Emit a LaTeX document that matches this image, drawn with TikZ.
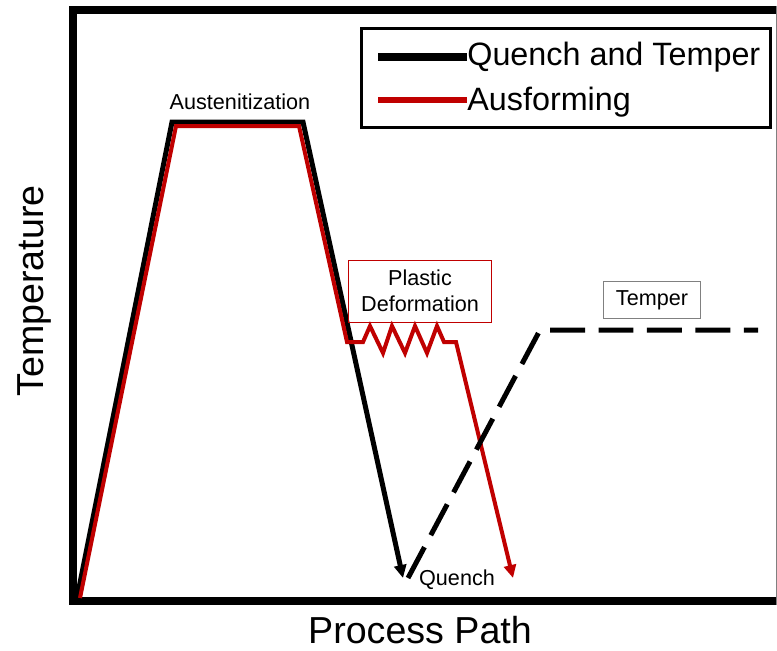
\documentclass[tikz,border=0pt]{standalone}
\usepackage{fontspec}
\setmainfont{Liberation Sans}
\usetikzlibrary{positioning,arrows.meta}
\definecolor{ausred}{RGB}{192,0,0}
\tikzset{
	qt/.style={line width=0.1cm, black, line join=miter},
	af/.style={line width=0.08cm, ausred, line join=miter},
	tip/.style={-{Triangle[length=0.26cm,width=0.24cm]}},
	lbl/.style={font=\fontsize{12.3}{14.5}\selectfont, inner sep=2pt},
	big/.style={font=\fontsize{21.4}{24}\selectfont, inner sep=0pt},
	leg/.style={font=\fontsize{18.4}{21}\selectfont, inner sep=0pt},
}
\begin{document}
\begin{tikzpicture}[x=0.02cm,y=-0.02cm]
	\useasboundingbox (0,0) rectangle (777,650);
	\draw[line width=0.16cm,line join=miter] (777,10) -- (73,10) -- (73,601) -- (777,601);%Rahmen
	\draw[gray,line width=0.02cm] (776.5,6) -- (776.5,605);%Rahmen rechts
	% Quench and Temper
	\coordinate (q0) at (77,598);
	\coordinate (q1) at (172,122);
	\coordinate (q2) at (303,122);
	\coordinate (q3) at (403,578);
	\draw[qt,tip] (q0) -- (q1) -- (q2) -- (q3);
	% Ausforming
	\coordinate (a0) at (80,598);
	\coordinate (a1) at (176,126);
	\coordinate (a2) at (299,126);
	\coordinate (a3) at (347,342);
	\coordinate (a4) at (456,342);
	\coordinate (a5) at (513,578);
	\draw[af,tip] (a0) -- (a1) -- (a2) -- (a3) -- (363,342) -- (370,326) -- (383,353) -- (392,326)
		-- (405,353) -- (415,326) -- (427,353) -- (437,326) -- (444,342) -- (a4) -- (a5);%Zickzack
	% Anlassen
	\coordinate (t0) at (408,578);
	\coordinate (t1) at (540,330);
	\coordinate (t2) at (758,330);
	\draw[line width=0.1cm,dash pattern=on 0.7cm off 0.27cm] (t0) -- (t1) -- (t2);
	% Beschriftung
	\node[lbl] (aust) at (240,102) {Austenitization};
	\node[lbl,draw=ausred,line width=0.02cm,align=center,minimum width=2.88cm,minimum height=1.24cm] (plastic) at (420,291) {Plastic\\Deformation};
	\node[lbl,draw=gray,line width=0.02cm,minimum width=1.94cm,minimum height=0.74cm] (temper) at (652,300) {Temper};
	\node[lbl] (quench) at (457,580) {Quench};
	\node[big,anchor=base] (xlab) at (420,643) {Process Path};
	\node[big,anchor=base,rotate=90] (ylab) at (43,291) {Temperature};
	% Legende
	\node[draw,line width=0.06cm,minimum width=8.2cm,minimum height=2cm] (legend) at (566,78) {};
	\node[leg,anchor=base west] (lqt) at (467,65) {Quench and Temper};
	\node[leg,anchor=base west] (laf) at (467,110) {Ausforming};
	\coordinate (lq) at (378,57);
	\coordinate (la) at (378,100);
	\draw[line width=0.15cm] (lq) -- (lq -| lqt.west);
	\draw[ausred,line width=0.13cm] (la) -- (la -| laf.west);
\end{tikzpicture}
\end{document}
